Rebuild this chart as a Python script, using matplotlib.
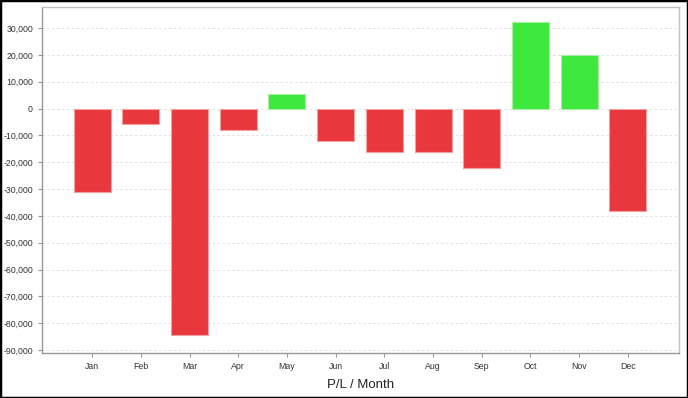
import matplotlib.pyplot as plt
from matplotlib.patches import Rectangle
from matplotlib.ticker import FuncFormatter

months = ["Jan", "Feb", "Mar", "Apr", "May", "Jun",
          "Jul", "Aug", "Sep", "Oct", "Nov", "Dec"]
pnl = [-31000, -5600, -84500, -7900, 5600, -11900,
       -16000, -16000, -22000, 32300, 20000, -38000]

RED = "#e8383d"
GREEN = "#3fe83d"


def main():
    plt.rcParams["font.family"] = ["Liberation Sans", "DejaVu Sans"]
    fig = plt.figure(figsize=(6.88, 3.98), dpi=100)
    ax = fig.add_axes([0.061, 0.113, 0.926, 0.869])

    x = list(range(len(months)))
    colors = [GREEN if v >= 0 else RED for v in pnl]
    edges = ["#a8f0a6" if v >= 0 else "#f2a0a2" for v in pnl]
    ax.bar(x, pnl, width=0.76, color=colors, edgecolor=edges,
           linewidth=0.8, zorder=3)

    ax.set_xlim(-1.03, 12.05)
    ax.set_ylim(-91100, 37800)
    ax.set_yticks(range(-90000, 30001, 10000))
    ax.yaxis.set_major_formatter(FuncFormatter(lambda v, p: f"{int(v):,}"))
    ax.set_xticks(x)
    ax.set_xticklabels(months)

    # light dashed horizontal grid
    ax.grid(axis="y", color="#e0e0e0", linestyle=(0, (2.5, 2.5)), linewidth=0.7, zorder=0)
    for s in ax.spines.values():
        s.set_color("#c0c0c0")
        s.set_linewidth(1.0)
    ax.spines["left"].set_color("#999999")
    ax.spines["bottom"].set_color("#999999")
    ax.tick_params(axis="both", colors="#999999", labelcolor="#333333",
                   labelsize=6.3, length=3, width=0.8)

    ax.set_xlabel("P/L / Month", fontsize=9.5, color="#222222", labelpad=6)

    fig.patches.append(Rectangle((0, 0), 1, 1, transform=fig.transFigure,
                                 fill=False, edgecolor="black", linewidth=2.5))

    fig.savefig("out.png", dpi=100)
    plt.close(fig)


if __name__ == "__main__":
    main()
